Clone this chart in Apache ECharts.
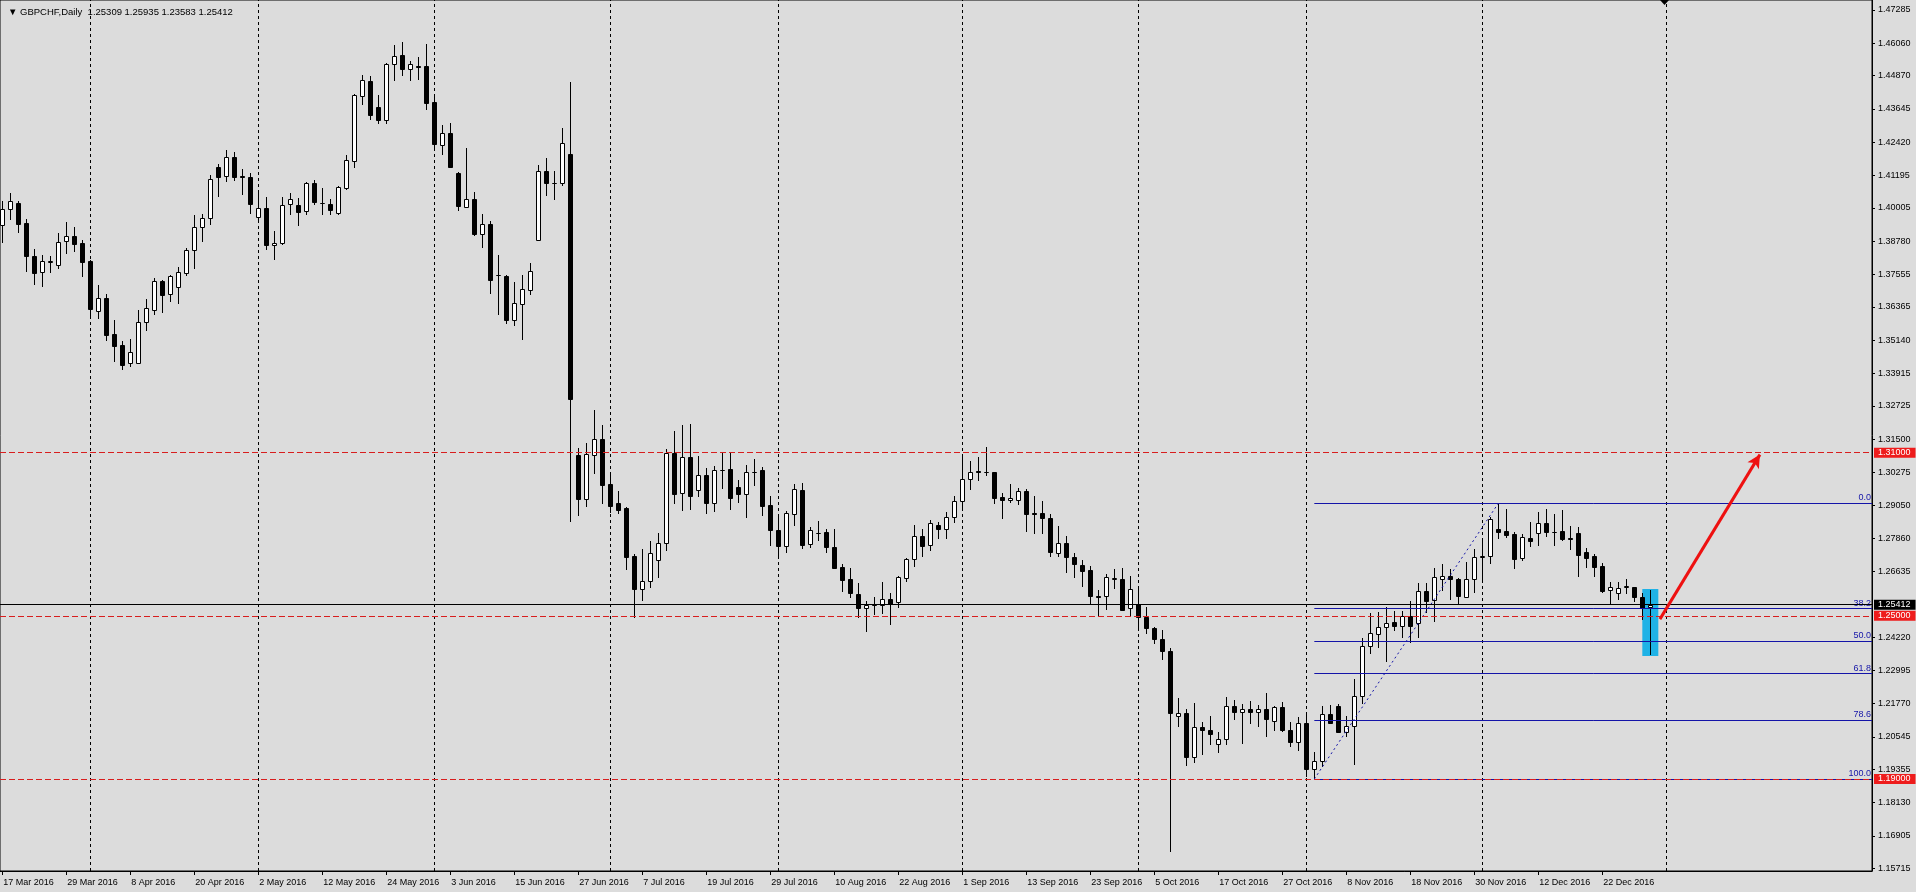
<!DOCTYPE html>
<html><head><meta charset="utf-8">
<script src="https://cdn.jsdelivr.net/npm/echarts@6/dist/echarts.min.js"></script>
<style>html,body{margin:0;padding:0;background:#dcdcdc;overflow:hidden}#c{width:1916px;height:892px}</style>
</head><body><div id="c"></div>
<script>
const symbolName = 'GBPCHF,Daily';
const lastBarOHLC = ['1.25309', '1.25935', '1.23583', '1.25412'];

const opens = [1.3936,1.3995,1.4017,1.3944,1.3823,1.3763,1.3803,1.3790,1.3877,1.3897,
1.3870,1.3804,1.3620,1.3668,1.3535,1.3495,1.3429,1.3431,1.3580,1.3626,
1.3730,1.3682,1.3708,1.3762,1.3844,1.3929,1.3962,1.4150,1.4116,1.4186,
1.4116,1.4113,1.3968,1.3999,1.3863,1.3871,1.4014,1.4010,1.3988,1.4091,
1.4019,1.4013,1.3983,1.4072,1.4172,1.4411,1.4466,1.4370,1.4325,1.4530,
1.4561,1.4510,1.4521,1.4522,1.4389,1.4230,1.4276,1.4128,1.4005,1.4032,
1.3906,1.3941,1.3754,1.3750,1.3589,1.3648,1.3700,1.3884,1.4135,1.4093,
1.4090,1.4197,1.3092,1.2931,1.3092,1.3149,1.2984,1.2915,1.2895,1.2719,
1.2598,1.2627,1.2704,1.2767,1.3098,1.2950,1.3084,1.2964,1.3017,1.2916,
1.3037,1.3039,1.2973,1.2947,1.3030,1.3035,1.2906,1.2815,1.2756,1.2873,
1.2962,1.2763,1.2806,1.2807,1.2752,1.2678,1.2634,1.2579,1.2528,1.2541,
1.2539,1.2561,1.2552,1.2638,1.2708,1.2792,1.2759,1.2833,1.2818,1.2862,
1.2921,1.3002,1.3031,1.3030,1.3029,1.2936,1.2925,1.2925,1.2959,1.2878,
1.2877,1.2859,1.2730,1.2767,1.2716,1.2687,1.2667,1.2573,1.2572,1.2637,
1.2634,1.2528,1.2542,1.2496,1.2455,1.2415,1.2371,1.2132,1.2142,1.1980,
1.2090,1.2082,1.2028,1.2046,1.2167,1.2145,1.2159,1.2148,1.2156,1.2113,
1.2165,1.2080,1.2035,1.2105,1.1936,1.1967,1.2138,1.2168,1.2074,1.2096,
1.2206,1.2388,1.2432,1.2459,1.2476,1.2464,1.2499,1.2472,1.2593,1.2559,
1.2635,1.2648,1.2634,1.2571,1.2634,1.2718,1.2719,1.2818,1.2811,1.2800,
1.2711,1.2785,1.2803,1.2841,1.2808,1.2812,1.2785,1.2805,1.2736,1.2720,
1.2683,1.2594,1.2583,1.2606,1.2605,1.2568,1.25309];

const highs = [1.4026,1.4054,1.4026,1.3958,1.3849,1.3827,1.3824,1.3907,1.3949,1.3930,
1.3882,1.3808,1.3716,1.3683,1.3588,1.3511,1.3518,1.3624,1.3664,1.3741,
1.3734,1.3755,1.3783,1.3853,1.3973,1.3977,1.4121,1.4161,1.4212,1.4205,
1.4142,1.4128,1.4058,1.4039,1.3915,1.4039,1.4055,1.4037,1.4097,1.4103,
1.4072,1.4033,1.4080,1.4195,1.4418,1.4489,1.4487,1.4416,1.4532,1.4599,
1.4612,1.4541,1.4554,1.4603,1.4412,1.4305,1.4313,1.4134,1.4219,1.4058,
1.3977,1.3951,1.3826,1.3754,1.3728,1.3752,1.3798,1.4157,1.4184,1.4135,
1.4293,1.4462,1.3116,1.3135,1.3257,1.3202,1.3028,1.2958,1.2902,1.2726,
1.2746,1.2775,1.2805,1.3114,1.3180,1.3202,1.3204,1.3088,1.3044,1.3051,
1.3101,1.3100,1.3000,1.3055,1.3077,1.3048,1.2941,1.2867,1.2886,1.2985,
1.2989,1.2827,1.2849,1.2818,1.2819,1.2691,1.2676,1.2621,1.2555,1.2569,
1.2625,1.2584,1.2648,1.2713,1.2834,1.2818,1.2853,1.2845,1.2882,1.2942,
1.3088,1.3070,1.3086,1.3121,1.3030,1.2951,1.2984,1.2969,1.2965,1.2941,
1.2921,1.2873,1.2829,1.2792,1.2730,1.2704,1.2683,1.2594,1.2653,1.2672,
1.2676,1.2647,1.2601,1.2534,1.2458,1.2448,1.2381,1.2197,1.2156,1.2178,
1.2108,1.2133,1.2072,1.2203,1.2191,1.2175,1.2187,1.2173,1.2216,1.2170,
1.2182,1.2108,1.2129,1.2138,1.2001,1.2168,1.2171,1.2176,1.2130,1.2267,
1.2417,1.2510,1.2513,1.2533,1.2518,1.2519,1.2553,1.2621,1.2621,1.2675,
1.2689,1.2671,1.2640,1.2697,1.2747,1.2779,1.2865,1.2914,1.2892,1.2810,
1.2801,1.2845,1.2881,1.2892,1.2876,1.2888,1.2830,1.2828,1.2751,1.2727,
1.2693,1.2625,1.2625,1.2635,1.2607,1.2583,1.25935];

const lows = [1.3876,1.3961,1.3913,1.3770,1.3722,1.3714,1.3766,1.3781,1.3836,1.3842,
1.3751,1.3600,1.3597,1.3516,1.3439,1.3409,1.3420,1.3429,1.3551,1.3611,
1.3619,1.3658,1.3652,1.3755,1.3779,1.3880,1.3941,1.4044,1.4101,1.4104,
1.4053,1.3983,1.3961,1.3850,1.3814,1.3868,1.3976,1.3939,1.3978,1.4015,
1.3976,1.3976,1.3979,1.4071,1.4152,1.4383,1.4327,1.4314,1.4314,1.4471,
1.4489,1.4471,1.4474,1.4364,1.4217,1.4200,1.4150,1.3993,1.4003,1.3902,
1.3858,1.3689,1.3610,1.3577,1.3570,1.3519,1.3685,1.3883,1.4048,1.4034,
1.4085,1.2849,1.2870,1.2904,1.3027,1.2914,1.2883,1.2880,1.2674,1.2495,
1.2557,1.2607,1.2644,1.2743,1.2915,1.2891,1.2894,1.2942,1.2880,1.2887,
1.2971,1.2894,1.2920,1.2865,1.2983,1.2872,1.2762,1.2724,1.2734,1.2835,
1.2751,1.2752,1.2780,1.2734,1.2677,1.2590,1.2571,1.2497,1.2446,1.2507,
1.2512,1.2471,1.2531,1.2628,1.2685,1.2721,1.2742,1.2788,1.2788,1.2846,
1.2902,1.2968,1.3001,1.3017,1.2916,1.2861,1.2920,1.2913,1.2813,1.2806,
1.2806,1.2721,1.2721,1.2663,1.2642,1.2611,1.2545,1.2501,1.2526,1.2604,
1.2520,1.2504,1.2460,1.2436,1.2401,1.2343,1.1636,1.2096,1.1953,1.1961,
1.1993,1.2030,1.2001,1.2030,1.2120,1.2034,1.2107,1.2095,1.2058,1.2081,
1.2078,1.2023,1.2008,1.1911,1.1900,1.1949,1.2105,1.2072,1.2058,1.1956,
1.2181,1.2363,1.2387,1.2334,1.2449,1.2421,1.2403,1.2423,1.2513,1.2482,
1.2595,1.2563,1.2544,1.2570,1.2589,1.2634,1.2694,1.2788,1.2789,1.2676,
1.2706,1.2757,1.2762,1.2795,1.2762,1.2779,1.2746,1.2647,1.2681,1.2646,
1.2589,1.2542,1.2563,1.2585,1.2556,1.2487,1.23583];

const closes = [1.3995,1.4025,1.3942,1.3825,1.3762,1.3804,1.3805,1.3874,1.3896,1.3869,
1.3803,1.3630,1.3668,1.3534,1.3494,1.3424,1.3469,1.3580,1.3631,1.3730,
1.3681,1.3749,1.3763,1.3844,1.3929,1.3962,1.4105,1.4115,1.4189,1.4115,
1.4114,1.4016,1.3999,1.3865,1.3872,1.4012,1.4032,1.3987,1.4091,1.4023,
1.4017,1.3994,1.4076,1.4175,1.4414,1.4470,1.4341,1.4325,1.4528,1.4560,
1.4510,1.4531,1.4519,1.4387,1.4237,1.4275,1.4152,1.4009,1.4032,1.3906,
1.3940,1.3736,1.3752,1.3589,1.3649,1.3701,1.3767,1.4135,1.4093,1.4091,
1.4238,1.3298,1.2931,1.3094,1.3149,1.2981,1.2905,1.2891,1.2718,1.2598,
1.2627,1.2730,1.2767,1.3098,1.2949,1.3084,1.2942,1.3017,1.2916,1.3035,
1.3035,1.2935,1.2947,1.3028,1.3028,1.2905,1.2817,1.2756,1.2877,1.2965,
1.2762,1.2815,1.2804,1.2754,1.2677,1.2633,1.2585,1.2528,1.2540,1.2539,
1.2561,1.2544,1.2642,1.2708,1.2792,1.2758,1.2840,1.2818,1.2862,1.2921,
1.3002,1.3028,1.3029,1.3029,1.2935,1.2925,1.2935,1.2959,1.2876,1.2876,
1.2859,1.2736,1.2767,1.2715,1.2690,1.2666,1.2572,1.2571,1.2643,1.2639,
1.2523,1.2598,1.2495,1.2454,1.2416,1.2369,1.2144,1.2142,1.1980,1.2090,
1.2079,1.2064,1.2046,1.2167,1.2145,1.2159,1.2148,1.2156,1.2119,1.2166,
1.2080,1.2035,1.2105,1.1936,1.1967,1.2138,1.2107,1.2074,1.2096,1.2206,
1.2388,1.2436,1.2459,1.2475,1.2464,1.2499,1.2464,1.2593,1.2556,1.2642,
1.2648,1.2637,1.2572,1.2636,1.2715,1.2720,1.2857,1.2810,1.2797,1.2709,
1.2789,1.2776,1.2841,1.2808,1.2810,1.2784,1.2783,1.2724,1.2714,1.2681,
1.2593,1.2607,1.2601,1.2608,1.2568,1.2530,1.25412];

const dateTickBars = [0,8,16,24,32,40,48,56,64,72,80,88,96,104,112,120,128,136,144,152,160,168,176,184,192,200];
const dateTickLabels = ['17 Mar 2016','29 Mar 2016','8 Apr 2016','20 Apr 2016','2 May 2016','12 May 2016','24 May 2016','3 Jun 2016','15 Jun 2016','27 Jun 2016','7 Jul 2016','19 Jul 2016','29 Jul 2016','10 Aug 2016','22 Aug 2016','1 Sep 2016','13 Sep 2016','23 Sep 2016','5 Oct 2016','17 Oct 2016','27 Oct 2016','8 Nov 2016','18 Nov 2016','30 Nov 2016','12 Dec 2016','22 Dec 2016'];
const monthStartBars = [11,32,54,76,97,120,142,163,185,208];
const priceTicks = [1.47285,1.46060,1.44870,1.43645,1.42420,1.41195,1.40005,1.38780,1.37555,1.36365,1.35140,1.33915,1.32725,1.31500,1.30275,1.29050,1.27860,1.26635,1.24220,1.22995,1.21770,1.20545,1.19355,1.18130,1.16905,1.15715];
const redLevels = [1.31, 1.25, 1.19];
const bidPrice = 1.25412;
const fibLowPrice = 1.19, fibHighPrice = 1.2914;
const fibLowBar = 164, fibHighBar = 187;
const fibLevels = [0, 38.2, 50, 61.8, 78.6, 100];
const boxBars = [205, 207];
const boxPrices = [1.2599, 1.2352];
const arrowStart = [207.2, 1.2488];
const arrowEnd = [219.7, 1.3093];

const X_MIN = -0.29, X_MAX = 233.71;
const Y_MIN = 1.15617, Y_MAX = 1.47648;
const FONT = 'Liberation Sans';
const FIB_BLUE = '#1414a8';
const RED = '#d81e1e';
const RED_BG = '#ee1c1c';

const candleData = opens.map((o, i) => [i, o, closes[i], lows[i], highs[i]]);

function renderCandle(params, api) {
  const x = api.value(0), o = api.value(1), c = api.value(2), l = api.value(3), h = api.value(4);
  const pO = api.coord([x, o]), pC = api.coord([x, c]);
  const pL = api.coord([x, l]), pH = api.coord([x, h]);
  const cx = Math.round(pO[0]);
  const top = Math.round(Math.min(pO[1], pC[1]));
  const bot = Math.round(Math.max(pO[1], pC[1]));
  const up = c >= o;
  return {
    type: 'group',
    children: [
      { type: 'line', shape: { x1: cx + 0.5, y1: Math.round(pH[1]), x2: cx + 0.5, y2: Math.round(pL[1]) + 1 },
        style: { stroke: '#000', lineWidth: 1 } },
      { type: 'rect', shape: { x: cx - 2 + 0.5, y: top + 0.5, width: 4, height: Math.max(bot - top, 0) },
        style: { fill: up ? '#fff' : '#000', stroke: '#000', lineWidth: 1 } }
    ]
  };
}

const fibRange = fibHighPrice - fibLowPrice;
const fibLines = fibLevels.map(lv => {
  const p = fibHighPrice - lv / 100 * fibRange;
  return [
    { coord: [fibLowBar, p], name: lv.toFixed(1) },
    { coord: [X_MAX, p] }
  ];
});

const priceLabel = (bg) => ({
  show: true, position: 'end', distance: 2, formatter: (p) => Number(p.value).toFixed(5),
  color: '#fff', backgroundColor: bg, fontSize: 9, fontFamily: FONT,
  lineHeight: 9, padding: [1, 5, 0, 4]
});

const chart = echarts.init(document.getElementById('c'), null, { renderer: 'canvas' });
chart.setOption({
  animation: false,
  backgroundColor: '#dcdcdc',
  title: {
    text: '\u25BC ' + symbolName + '  ' + lastBarOHLC.join(' '),
    left: 3, top: 2,
    textStyle: { fontSize: 9.5, fontWeight: 'normal', color: '#000', fontFamily: FONT }
  },
  grid: { left: 0, right: 44, top: 0, bottom: 21, show: true, borderColor: '#000', borderWidth: 1, backgroundColor: 'transparent' },
  xAxis: {
    type: 'value', min: X_MIN, max: X_MAX, position: 'bottom',
    axisLine: { show: true, onZero: false, lineStyle: { color: '#000', width: 1 } },
    axisTick: { show: true, customValues: dateTickBars, length: 4, lineStyle: { color: '#000' } },
    axisLabel: {
      show: true, customValues: dateTickBars,
      formatter: (v) => { const k = dateTickBars.indexOf(Math.round(v)); return k >= 0 ? dateTickLabels[k] : ''; },
      align: 'left', margin: 7, color: '#000', fontSize: 9, fontFamily: FONT, padding: [0, 0, 0, 1]
    },
    splitLine: { show: false }
  },
  yAxis: {
    type: 'value', position: 'right', min: Y_MIN, max: Y_MAX, scale: true,
    axisLine: { show: true, onZero: false, lineStyle: { color: '#000', width: 1 } },
    axisTick: { show: true, customValues: priceTicks, length: 3, lineStyle: { color: '#000' } },
    axisLabel: { show: true, customValues: priceTicks, formatter: (v) => v.toFixed(5), margin: 6, color: '#000', fontSize: 9, fontFamily: FONT },
    splitLine: { show: false }
  },
  series: [
    {
      type: 'line', data: [], silent: true,
      markLine: {
        z: 1, silent: true, symbol: 'none', animation: false, precision: 5,
        label: { show: false },
        lineStyle: { color: '#000', width: 1, type: [3, 3] },
        data: monthStartBars.map(b => ({ xAxis: b }))
      },
      markArea: {
        z: 1, silent: true, animation: false,
        itemStyle: { color: '#1fb2e6', opacity: 1 },
        label: { show: false },
        data: [[{ coord: [boxBars[0], boxPrices[0]] }, { coord: [boxBars[1], boxPrices[1]] }]]
      }
    },
    {
      type: 'custom', name: 'GBPCHF', z: 2, clip: true,
      renderItem: renderCandle,
      encode: { x: 0, y: [1, 2, 3, 4] },
      data: candleData
    },
    {
      type: 'line', data: [], silent: true,
      markLine: {
        z: 6, silent: true, symbol: 'none', animation: false, precision: 5,
        lineStyle: { color: FIB_BLUE, width: 1, type: 'solid' },
        label: { show: true, position: 'insideEndTop', formatter: '{b}', color: FIB_BLUE, fontSize: 9, fontFamily: FONT, distance: 1 },
        data: fibLines.concat([[
          { coord: [fibLowBar, fibLowPrice], lineStyle: { type: [2, 3], color: FIB_BLUE }, label: { show: false } },
          { coord: [fibHighBar, fibHighPrice] }
        ]])
      }
    },
    {
      type: 'line', data: [], silent: true,
      markLine: {
        z: 7, silent: true, symbol: 'none', animation: false, precision: 5,
        data: redLevels.map(v => ({
          yAxis: v, lineStyle: { color: RED, width: 1, type: [6, 3] }, label: priceLabel(RED_BG)
        })).concat([{
          yAxis: bidPrice, lineStyle: { color: '#000', width: 1, type: 'solid' }, label: priceLabel('#000')
        }])
      }
    },
    {
      type: 'line', data: [], silent: true,
      markLine: {
        z: 8, silent: true, animation: false, precision: 5,
        symbol: ['none', 'arrow'], symbolSize: [10, 13],
        lineStyle: { color: '#ee1111', width: 3, type: 'solid' },
        label: { show: false },
        data: [[{ coord: arrowStart }, { coord: arrowEnd }]]
      }
    }
  ],
  graphic: [{
    type: 'polygon', silent: true, z: 100,
    shape: { points: [[1660, 0], [1669, 0], [1664.5, 5]] },
    style: { fill: '#000' }
  }]
});
</script></body></html>
